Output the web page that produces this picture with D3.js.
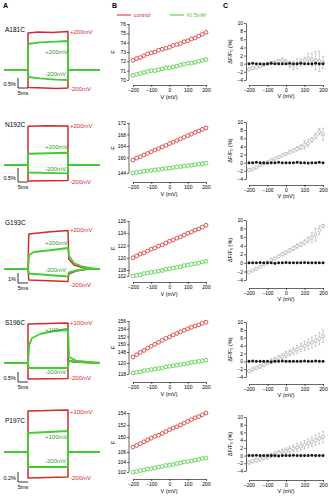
<!DOCTYPE html>
<html>
<head>
<meta charset="utf-8">
<script src="https://cdn.jsdelivr.net/npm/d3@7"></script>
<style>
body { margin: 0; background: #fff; }
svg { display: block; font-family: "Liberation Sans", Arial, sans-serif; }
</style>
</head>
<body>
<svg id="fig" width="329" height="500"></svg>
<script>
// mutants, one per row
var mutants = ["A181C", "N192C", "G193C", "S196C", "P197C"];
var depolLabels = ["+200mV", "+200mV", "+200mV", "+100mV", "+100mV"];
var hyperLabels = ["-200mV", "-200mV", "-200mV", "-200mV", "-200mV"];
var scaleBarPct = [0.5, 0.5, 1, 0.5, 0.2];
var scaleBarMs = 5;
var voltages = [-200, -180, -160, -140, -120, -100, -80, -60, -40, -20, 0, 20, 40, 60, 80, 100, 120, 140, 160, 180, 200];
var vTicks = [-200, -100, 0, 100, 200];
var dffTicks = [10, 8, 6, 4, 2, 0, -2, -4];

// fluorescence traces, [time (ms), dF/F (%)], pulse from 0 to 20 ms
var ctrlDepol = [
  [[-12, 0], [0, 0], [0, 1.85], [5, 1.9], [12, 1.88], [20, 1.92], [20, 0], [36, 0]],
  [[-12, 0], [0, 0], [0, 1.38], [10, 1.4], [20, 1.39], [20, 0], [36, 0]],
  [[-12, 0], [0, 0], [0.4, 3.5], [10, 3.7], [20, 3.85], [20.4, 1.0], [23, 0.4], [28, 0.1], [36, 0]],
  [[-12, 0], [0, 0], [0, 1.95], [20, 2.0], [20, 0.1], [24, 0.05], [36, 0]],
  [[-12, 0], [0, 0], [0, 0.82], [20, 0.84], [20, 0], [36, 0]]
];
var ctrlHyper = [
  [[-12, 0], [0, 0], [0, -0.88], [8, -0.9], [14, -0.92], [20, -0.9], [20, 0], [36, 0]],
  [[-12, 0], [0, 0], [0, -0.57], [20, -0.55], [20, 0], [36, 0]],
  [[-12, 0], [0, 0], [0.4, -1.1], [20, -1.25], [20.4, -0.5], [24, -0.2], [30, 0], [36, 0]],
  [[-12, 0], [0, 0], [0, -0.8], [20, -0.78], [20, 0.15], [23, 0.05], [36, 0]],
  [[-12, 0], [0, 0], [0, -0.52], [20, -0.5], [20, 0], [36, 0]]
];
var kiDepol = [
  [[-12, 0], [0, 0], [0, 1.3], [6, 1.38], [14, 1.42], [20, 1.45], [20, 0], [36, 0]],
  [[-12, 0], [0, 0], [0, 0.4], [20, 0.44], [20, 0], [36, 0]],
  [[-12, 0], [0, 0], [0.5, 1.4], [3, 1.7], [12, 1.9], [20, 2.1], [20.5, 1.3], [23, 0.6], [27, 0.25], [32, 0.05], [36, 0]],
  [[-12, 0], [0, 0], [0.6, 0.9], [2, 1.25], [6, 1.45], [13, 1.6], [20, 1.7], [20.5, 0.3], [24, 0.12], [30, 0.05], [36, 0]],
  [[-12, 0], [0, 0], [0, 0.38], [20, 0.42], [20, 0], [36, 0]]
];
var kiHyper = [
  [[-12, 0], [0, 0], [0, -0.35], [6, -0.42], [14, -0.48], [20, -0.5], [20, 0], [36, 0]],
  [[-12, 0], [0, 0], [0, -0.27], [20, -0.3], [20, 0], [36, 0]],
  [[-12, 0], [0, 0], [0.5, -0.45], [10, -0.6], [20, -0.75], [20.5, -0.35], [24, -0.15], [30, 0], [36, 0]],
  [[-12, 0], [0, 0], [0.3, -0.25], [20, -0.25], [20.3, 0.1], [26, 0.05], [36, 0]],
  [[-12, 0], [0, 0], [0, -0.3], [20, -0.3], [20, 0], [36, 0]]
];

// F vs V, control and KI
var fControl = [
  [72.1, 72.3, 72.4, 72.6, 72.8, 72.9, 73.0, 73.2, 73.3, 73.4, 73.5, 73.7, 73.8, 73.9, 74.1, 74.2, 74.4, 74.5, 74.7, 74.9, 75.1],
  [159.1, 159.8, 160.3, 160.9, 161.4, 162.0, 162.6, 163.1, 163.7, 164.2, 164.8, 165.3, 165.9, 166.5, 167.0, 167.6, 168.1, 168.7, 169.2, 169.8, 170.3],
  [120.0, 120.3, 120.6, 120.8, 121.1, 121.4, 121.6, 121.9, 122.1, 122.4, 122.7, 122.9, 123.2, 123.4, 123.7, 124.0, 124.2, 124.5, 124.7, 125.0, 125.3],
  [146.7, 147.3, 147.9, 148.4, 149.0, 149.5, 150.0, 150.5, 151.0, 151.5, 151.9, 152.4, 152.8, 153.2, 153.6, 154.0, 154.4, 154.7, 155.0, 155.4, 155.7],
  [148.3, 148.6, 148.9, 149.2, 149.5, 149.8, 150.1, 150.3, 150.6, 150.9, 151.2, 151.5, 151.7, 152.0, 152.3, 152.6, 152.9, 153.2, 153.4, 153.7, 154.0]
];
var fKI = [
  [70.5, 70.6, 70.7, 70.8, 70.9, 71.0, 71.0, 71.1, 71.2, 71.3, 71.3, 71.4, 71.5, 71.6, 71.7, 71.8, 71.8, 71.9, 72.0, 72.1, 72.2],
  [144.0, 144.2, 144.4, 144.6, 144.7, 144.9, 145.1, 145.2, 145.4, 145.6, 145.7, 145.9, 146.1, 146.2, 146.4, 146.6, 146.7, 146.9, 147.1, 147.2, 147.4],
  [102.0, 102.1, 102.2, 102.4, 102.5, 102.6, 102.7, 102.8, 102.9, 103.1, 103.2, 103.3, 103.4, 103.5, 103.7, 103.8, 103.9, 104.0, 104.1, 104.3, 104.4],
  [118.2, 118.3, 118.4, 118.6, 118.7, 118.8, 118.9, 119.0, 119.1, 119.3, 119.4, 119.5, 119.6, 119.7, 119.8, 119.9, 120.1, 120.2, 120.3, 120.4, 120.5],
  [102.0, 102.1, 102.3, 102.4, 102.6, 102.7, 102.8, 103.0, 103.1, 103.3, 103.4, 103.5, 103.7, 103.8, 104.0, 104.1, 104.2, 104.4, 104.5, 104.7, 104.8]
];
var fTicksUpper = [[76, 75, 74, 73, 72, 71, 70], [172, 168, 164, 160], [126, 124, 122, 120, 118], [156, 154, 152, 150, 148], [154, 152, 150]];
var fTicksLower = [[], [144], [102], [120, 118], [106, 104, 102]];

// dF/F0 vs V
var dffControl = [
  [0, 0.1, 0, 0, -0.1, 0, 0.1, 0, 0, 0, 0, 0.1, 0, 0, 0.1, 0, 0, 0, 0.1, 0, 0],
  [0, 0, 0.1, 0, 0, -0.1, 0, 0, 0.1, 0, 0, 0, 0, 0.1, 0, 0, -0.1, 0, 0, 0.1, 0],
  [0, 0, 0, 0.1, 0, 0, 0, -0.1, 0, 0, 0.1, 0, 0, 0, 0, 0.1, 0, 0, 0, 0, 0],
  [0, 0.1, 0, 0, 0, 0, -0.1, 0, 0, 0.1, 0, 0, 0, 0, 0, 0.1, 0, 0, 0.1, 0, 0],
  [0, 0, 0.1, 0, 0, 0, 0, 0, -0.1, 0, 0, 0, 0.1, 0, 0, 0, 0, 0.1, 0, 0, 0]
];
var dffKI = [
  [-1.4, -1.1, -0.9, -0.6, -0.3, 0.0, 0.2, 0.3, 0.6, 0.9, 0.4, -0.2, -0.4, 0.0, 0.3, 0.8, 1.2, 1.0, 0.8, 0.6, 0.3],
  [-1.8, -1.6, -1.2, -0.6, -0.2, 0.2, 0.6, 1.0, 1.4, 1.8, 2.2, 2.6, 3.0, 3.4, 3.8, 4.4, 4.8, 5.6, 6.5, 7.6, 7.0],
  [-2.2, -1.8, -1.4, -0.9, -0.4, 0.1, 0.6, 1.0, 1.5, 2.0, 2.4, 2.9, 3.4, 3.9, 4.3, 4.8, 5.4, 5.9, 6.6, 7.6, 8.6],
  [-2.5, -2.1, -1.7, -1.3, -0.8, -0.4, 0.0, 0.4, 0.8, 1.2, 1.7, 2.1, 2.6, 3.0, 3.5, 3.9, 4.4, 4.8, 5.2, 5.8, 6.4],
  [-1.8, -1.5, -1.2, -0.9, -0.6, -0.3, 0.0, 0.3, 0.6, 0.9, 1.2, 1.5, 1.8, 2.1, 2.4, 2.8, 3.2, 3.6, 4.0, 4.4, 4.8]
];
var dffKIErr = [
  [0.3, 0.3, 0.2, 0.2, 0.2, 0.2, 0.3, 0.3, 0.4, 0.5, 0.6, 0.8, 1.0, 1.2, 0.9, 0.8, 1.4, 1.6, 2.2, 2.5, 1.5],
  [0.2, 0.2, 0.2, 0.2, 0.2, 0.2, 0.3, 0.3, 0.3, 0.3, 0.3, 0.4, 0.4, 0.5, 0.6, 1.0, 0.9, 0.6, 0.7, 0.8, 1.5],
  [0.2, 0.2, 0.2, 0.2, 0.2, 0.3, 0.3, 0.3, 0.3, 0.4, 0.4, 0.4, 0.5, 0.5, 0.5, 0.6, 0.7, 1.2, 1.5, 1.0, 0.4],
  [0.4, 0.4, 0.4, 0.5, 0.5, 0.5, 0.6, 0.6, 0.7, 0.7, 0.8, 0.8, 0.9, 1.0, 1.1, 1.2, 1.3, 1.4, 1.4, 1.5, 1.6],
  [0.4, 0.4, 0.5, 0.5, 0.5, 0.6, 0.6, 0.7, 0.7, 0.8, 0.8, 0.9, 0.9, 1.0, 1.0, 1.1, 1.2, 1.2, 1.3, 1.4, 1.5]
];

// per-row placement
var rows = [
  { base: 70, pxPct: 20, barBottom: 88, nameY: 32, labY: [34, 54, 76, 91],
    bAxis: 85, bUp: [[70, 76], [80, 24]], bLo: null, cTop: 23, cBot: 80, cAxis: 85 },
  { base: 165, pxPct: 28, barBottom: 182, nameY: 127, labY: [128, 149, 171, 184],
    bAxis: 182, bUp: [[160, 172], [157.5, 123]], bLo: [[144, 148], [173, 161.5]], cTop: 122, cBot: 179, cAxis: 185 },
  { base: 269, pxPct: 10, barBottom: 283, nameY: 225, labY: [232, 245, 272, 287],
    bAxis: 282, bUp: [[118, 126], [270, 221]], bLo: [[102, 104], [276, 263.75]], cTop: 220, cBot: 280, cAxis: 288 },
  { base: 363, pxPct: 20, barBottom: 382, nameY: 325, labY: [325, 332, 374, 380],
    bAxis: 382, bUp: [[148, 156], [352, 321]], bLo: [[118, 120], [374, 363]], cTop: 322, cBot: 377, cAxis: 384 },
  { base: 452, pxPct: 50, barBottom: 482, nameY: 423, labY: [414, 439, 463, 480],
    bAxis: 479, bUp: [[150, 154], [437, 413]], bLo: [[102, 106], [472, 452]], cTop: 417, cBot: 471, cAxis: 480 }
];

var RED = "#d42a2a";
var GREEN = "#44cc33";
var GRAY = "#9a9a9a";
var FONT = "\"Liberation Sans\", Arial, sans-serif";
var intFmt = d3.format("d");

var svg = d3.select("#fig");

// panel letters
[["A", 3], ["B", 112], ["C", 223]].forEach(function (p) {
  svg.append("text").attr("x", p[1]).attr("y", 8)
    .attr("font-size", 7).attr("font-weight", "bold").text(p[0]);
});

// B legend
var leg = svg.append("g");
leg.append("line").attr("x1", 117).attr("x2", 131).attr("y1", 15).attr("y2", 15)
  .attr("stroke", RED).attr("stroke-width", 1);
leg.append("text").attr("x", 134).attr("y", 17).attr("font-size", 5.5).attr("fill", RED).text("control");
leg.append("line").attr("x1", 170).attr("x2", 184).attr("y1", 15).attr("y2", 15)
  .attr("stroke", GREEN).attr("stroke-width", 1);
leg.append("text").attr("x", 187).attr("y", 17).attr("font-size", 5.5).attr("fill", GREEN).text("KI 5mM");

function styleAxis(g) {
  g.attr("font-size", 5).attr("font-family", FONT);
  g.selectAll("line").attr("stroke", "#000").attr("stroke-width", 0.6);
  g.select(".domain").attr("stroke-width", 0.6);
}

function drawTraces(i) {
  var L = rows[i];
  var tx = d3.scaleLinear().domain([-12, 36]).range([4, 100]);
  var ty = d3.scaleLinear().domain([0, 1]).range([L.base, L.base - L.pxPct]);
  var line = d3.line().x(function (d) { return tx(d[0]); }).y(function (d) { return ty(d[1]); });
  var g = svg.append("g");

  [[ctrlDepol, RED, 1.5], [ctrlHyper, RED, 1.5], [kiDepol, GREEN, 1.9], [kiHyper, GREEN, 1.9]].forEach(function (s) {
    g.append("path").attr("d", line(s[0][i]))
      .attr("fill", "none").attr("stroke", s[1]).attr("stroke-width", s[2])
      .attr("stroke-linejoin", "round");
  });

  g.append("text").attr("x", 5).attr("y", L.nameY).attr("font-size", 6.5).text(mutants[i]);
  g.append("text").attr("x", 70).attr("y", L.labY[0]).attr("font-size", 6).attr("fill", RED).text(depolLabels[i]);
  g.append("text").attr("x", 45).attr("y", L.labY[1]).attr("font-size", 6).attr("fill", "#2a9a22").text(depolLabels[i]);
  g.append("text").attr("x", 45).attr("y", L.labY[2]).attr("font-size", 6).attr("fill", "#2a9a22").text(hyperLabels[i]);
  g.append("text").attr("x", 70).attr("y", L.labY[3]).attr("font-size", 6).attr("fill", RED).text(hyperLabels[i]);

  // scale bars
  var barH = ty(0) - ty(scaleBarPct[i]);
  var barW = tx(scaleBarMs) - tx(0);
  var bx = 18, by = L.barBottom;
  g.append("path").attr("d", "M" + bx + "," + (by - barH) + "V" + by + "H" + (bx + barW))
    .attr("fill", "none").attr("stroke", "#000").attr("stroke-width", 0.8);
  g.append("text").attr("x", bx - 2).attr("y", by - 2).attr("text-anchor", "end")
    .attr("font-size", 5.5).text(scaleBarPct[i] + "%");
  g.append("text").attr("x", bx + barW / 2).attr("y", by + 7).attr("text-anchor", "middle")
    .attr("font-size", 5.5).text(scaleBarMs + "ms");
}

function drawFV(i) {
  var L = rows[i];
  var g = svg.append("g");
  var x = d3.scaleLinear().domain([-200, 200]).range([133, 206]);
  var yUp = d3.scaleLinear().domain(L.bUp[0]).range(L.bUp[1]);
  var yLo = L.bLo ? d3.scaleLinear().domain(L.bLo[0]).range(L.bLo[1]) : yUp;
  var axX = 129;

  var topY = yUp(fTicksUpper[i][0]);
  var lows = fTicksLower[i];
  var botY = lows.length ? yLo(lows[lows.length - 1]) : yUp(fTicksUpper[i][fTicksUpper[i].length - 1]);
  g.append("line").attr("x1", axX).attr("x2", axX).attr("y1", topY).attr("y2", botY)
    .attr("stroke", "#000").attr("stroke-width", 0.6);

  var ga = g.append("g").attr("transform", "translate(" + axX + ",0)")
    .call(d3.axisLeft(yUp).tickValues(fTicksUpper[i]).tickFormat(intFmt).tickSize(2).tickPadding(1).tickSizeOuter(0));
  ga.select(".domain").remove();
  styleAxis(ga);
  if (lows.length) {
    var gl = g.append("g").attr("transform", "translate(" + axX + ",0)")
      .call(d3.axisLeft(yLo).tickValues(lows).tickFormat(intFmt).tickSize(2).tickPadding(1).tickSizeOuter(0));
    gl.select(".domain").remove();
    styleAxis(gl);
  }

  var gx = g.append("g").attr("transform", "translate(0," + L.bAxis + ")")
    .call(d3.axisBottom(x).tickValues(vTicks).tickFormat(intFmt).tickSize(2).tickPadding(1).tickSizeOuter(0));
  styleAxis(gx);

  g.append("text").attr("x", 169).attr("y", L.bAxis + 14).attr("text-anchor", "middle")
    .attr("font-size", 5.5).text("V (mV)");
  g.append("text").attr("transform", "translate(115," + ((topY + botY) / 2) + ") rotate(-90)")
    .attr("text-anchor", "middle").attr("font-size", 6).text("F");

  g.selectAll(".ctl").data(fControl[i]).enter().append("circle")
    .attr("cx", function (d, k) { return x(voltages[k]); })
    .attr("cy", function (d) { return yUp(d); })
    .attr("r", 1.9).attr("fill", "#fff").attr("stroke", RED).attr("stroke-width", 0.8);
  g.selectAll(".ki").data(fKI[i]).enter().append("circle")
    .attr("cx", function (d, k) { return x(voltages[k]); })
    .attr("cy", function (d) { return yLo(d); })
    .attr("r", 1.9).attr("fill", "#fff").attr("stroke", GREEN).attr("stroke-width", 0.8);
}

function drawDFF(i) {
  var L = rows[i];
  var g = svg.append("g");
  var x = d3.scaleLinear().domain([-200, 200]).range([249, 323]);
  var y = d3.scaleLinear().domain([-4, 10]).range([L.cBot, L.cTop]);

  var gy = g.append("g").attr("transform", "translate(246,0)")
    .call(d3.axisLeft(y).tickValues(dffTicks).tickFormat(intFmt).tickSize(2).tickPadding(1).tickSizeOuter(0));
  styleAxis(gy);
  var gx = g.append("g").attr("transform", "translate(0," + L.cAxis + ")")
    .call(d3.axisBottom(x).tickValues(vTicks).tickFormat(intFmt).tickSize(2).tickPadding(1).tickSizeOuter(0));
  styleAxis(gx);

  g.append("text").attr("x", 286).attr("y", L.cAxis + 13).attr("text-anchor", "middle")
    .attr("font-size", 5.5).text("V (mV)");
  g.append("text").attr("transform", "translate(232," + ((L.cTop + L.cBot) / 2) + ") rotate(-90)")
    .attr("text-anchor", "middle").attr("font-size", 5.5).text("ΔF/F₀ (%)");

  // KI: open gray with error bars
  var pts = dffKI[i].map(function (v, k) { return { v: v, e: dffKIErr[i][k], mv: voltages[k] }; });
  var eb = g.selectAll(".eb").data(pts).enter().append("g");
  eb.append("line")
    .attr("x1", function (d) { return x(d.mv); }).attr("x2", function (d) { return x(d.mv); })
    .attr("y1", function (d) { return y(d.v - d.e); }).attr("y2", function (d) { return y(d.v + d.e); })
    .attr("stroke", GRAY).attr("stroke-width", 0.5);
  [-1, 1].forEach(function (s) {
    eb.append("line")
      .attr("x1", function (d) { return x(d.mv) - 1.2; }).attr("x2", function (d) { return x(d.mv) + 1.2; })
      .attr("y1", function (d) { return y(d.v + s * d.e); }).attr("y2", function (d) { return y(d.v + s * d.e); })
      .attr("stroke", GRAY).attr("stroke-width", 0.5);
  });
  eb.append("circle")
    .attr("cx", function (d) { return x(d.mv); }).attr("cy", function (d) { return y(d.v); })
    .attr("r", 1.6).attr("fill", "#fff").attr("stroke", GRAY).attr("stroke-width", 0.6);

  // control: filled black
  g.selectAll(".ctl").data(dffControl[i]).enter().append("circle")
    .attr("cx", function (d, k) { return x(voltages[k]); })
    .attr("cy", function (d) { return y(d); })
    .attr("r", 1.5).attr("fill", "#1a1a1a");
}

for (var i = 0; i < mutants.length; i++) {
  drawTraces(i);
  drawFV(i);
  drawDFF(i);
}
</script>
</body>
</html>
